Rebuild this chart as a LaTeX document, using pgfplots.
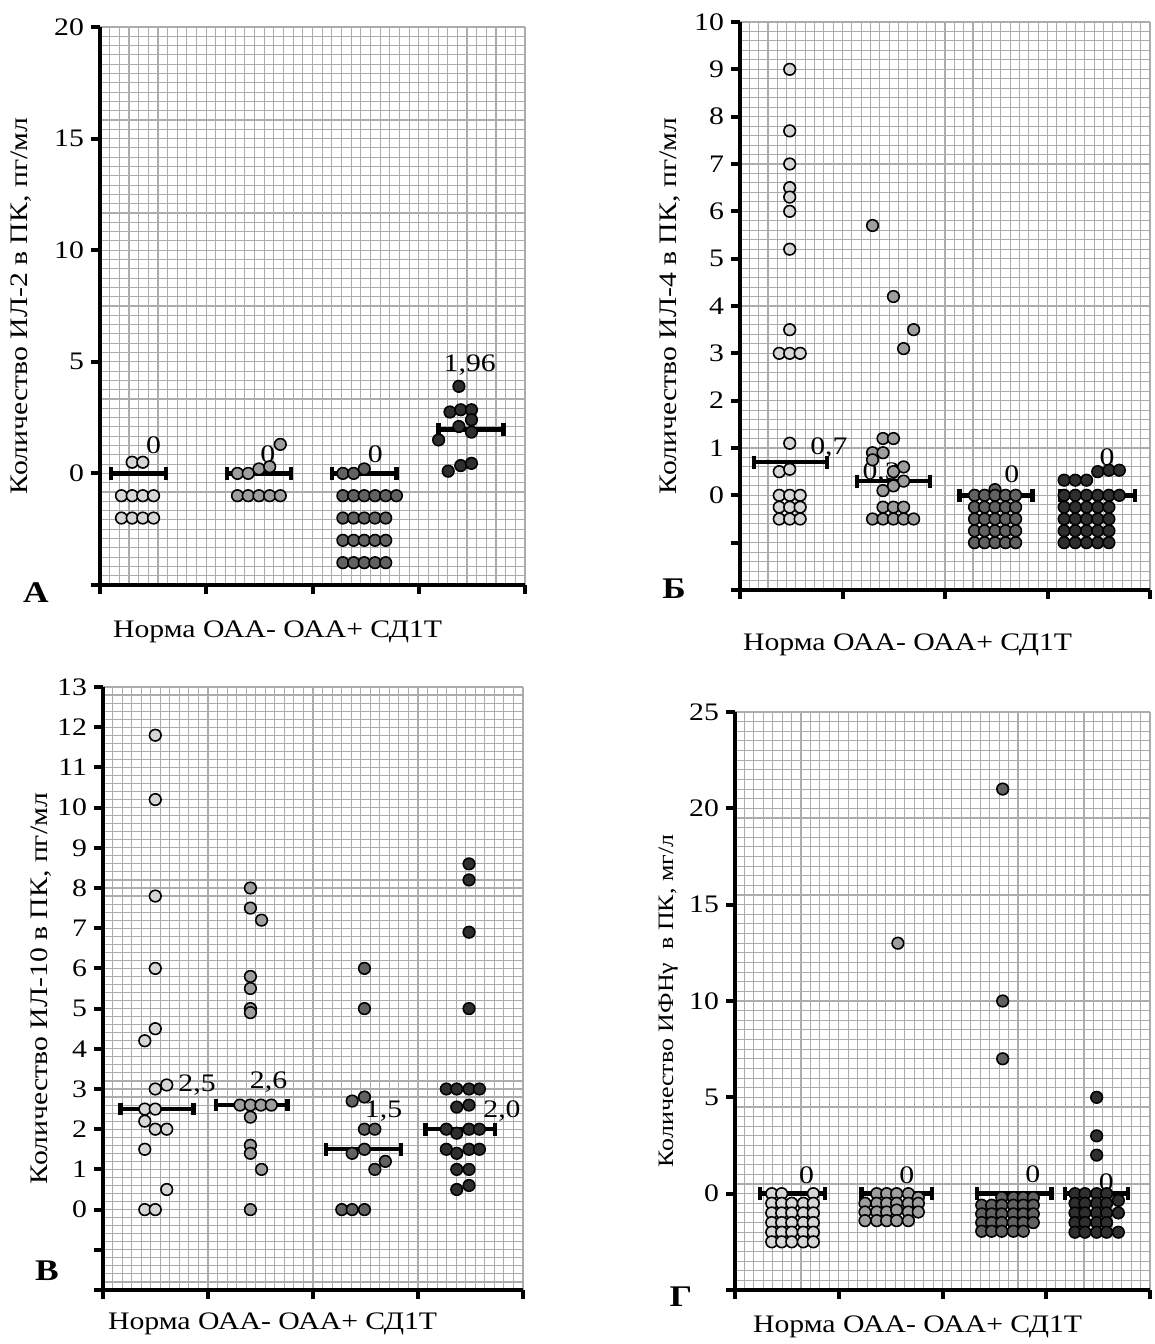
\documentclass[border=0pt]{standalone}
\usepackage{fontspec}
\setmainfont{Liberation Serif}[FakeStretch=1.18]
\usepackage{pgfplots}
\pgfplotsset{compat=1.18}

\definecolor{cN}{gray}{0.84}
\definecolor{cM}{gray}{0.62}
\definecolor{cD}{gray}{0.38}
\definecolor{cK}{gray}{0.18}

\newcommand{\fs}{\fontsize{12.6}{15}\selectfont}
\newcommand{\fl}{\fontsize{15}{18}\selectfont\bfseries}

\pgfplotsset{
  panel/.style={
    scale only axis, anchor=south west, enlargelimits=false, clip=false,
    xmin=0, xmax=4, xtick={0,1,2,3,4}, xticklabels={},
    axis lines=left, axis line style={-, line width=2.2pt},
    tick align=outside, tick pos=left,
    major tick length=4.5pt, minor tick length=0pt,
    every tick/.style={black, line width=2pt},
    grid=both,
    major grid style={gray!65, line width=0.55pt},
    minor grid style={gray!65, line width=0.55pt},
    minor x tick num=10,
    tick label style={font=\fs},
    ylabel style={font=\fs, anchor=center},
    /pgf/number format/assume math mode=true,
  },
  dot/.style={only marks, mark=*, mark size=2.9pt,
    mark options={draw=black, line width=0.8pt, fill=#1}},
  med/.style={black, line width=2.2pt, mark=|, mark size=3.2pt,
    mark options={line width=2.2pt}},
}

\begin{document}
\begin{tikzpicture}
\useasboundingbox (0,0) rectangle (577.5pt,672pt);

% ---------------- A: IL-2 ----------------
\begin{axis}[panel, at={(50pt,379.5pt)}, width=212.5pt, height=279pt,
  ymin=-5, ymax=20, ytick={-5,0,5,10,15,20}, yticklabels={,0,5,10,15,20},
  minor y tick num=11,
  ylabel={Количество ИЛ-2 в ПК, пг/мл},
  ylabel style={at={(axis description cs:-0.186,0.5)}}]
\addplot[med] coordinates {(0.101,0) (0.622,0)};
\addplot[med] coordinates {(1.193,0) (1.798,0)};
\addplot[med] coordinates {(2.185,0) (2.790,0)};
\addplot[med] coordinates {(3.187,1.96) (3.798,1.96)};
\addplot[dot=cN] coordinates {
  (0.303,0.5) (0.403,0.5)
  (0.202,-1) (0.303,-1) (0.403,-1) (0.504,-1)
  (0.202,-2) (0.303,-2) (0.403,-2) (0.504,-2)};
\addplot[dot=cM] coordinates {
  (1.294,0) (1.395,0) (1.496,0.2) (1.597,0.3) (1.697,1.3)
  (1.294,-1) (1.395,-1) (1.496,-1) (1.597,-1) (1.697,-1)};
\addplot[dot=cD] coordinates {
  (2.286,0) (2.387,0) (2.487,0.2)
  (2.286,-1) (2.387,-1) (2.487,-1) (2.588,-1) (2.689,-1) (2.790,-1)
  (2.286,-2) (2.387,-2) (2.487,-2) (2.588,-2) (2.689,-2)
  (2.286,-3) (2.387,-3) (2.487,-3) (2.588,-3) (2.689,-3)
  (2.286,-4) (2.387,-4) (2.487,-4) (2.588,-4) (2.689,-4)};
\addplot[dot=cK] coordinates {
  (3.378,3.9) (3.294,2.75) (3.395,2.85) (3.496,2.85) (3.496,2.4)
  (3.378,2.1) (3.496,1.85) (3.187,1.5) (3.277,0.1) (3.395,0.35) (3.496,0.45)};
\node[font=\fs] at (axis cs:0.504,1.24) {0};
\node[font=\fs] at (axis cs:1.58,0.86) {0};
\node[font=\fs] at (axis cs:2.59,0.86) {0};
\node[font=\fs] at (axis cs:3.48,4.85) {1,96};
\end{axis}

% ---------------- Б: IL-4 ----------------
\begin{axis}[panel, at={(370pt,377pt)}, width=205pt, height=284pt,
  ymin=-2, ymax=10, ytick={-2,...,10}, yticklabels={,,0,1,2,3,4,5,6,7,8,9,10},
  minor y tick num=4,
  ylabel={Количество ИЛ-4 в ПК, пг/мл},
  ylabel style={at={(axis description cs:-0.171,0.5)}}]
\addplot[med] coordinates {(0.138,0.7) (0.849,0.7)};
\addplot[med] coordinates {(1.140,0.3) (1.851,0.3)};
\addplot[med] coordinates {(2.142,0) (2.852,0)};
\addplot[med] coordinates {(3.126,0) (3.854,0)};
\addplot[dot=cN] coordinates {
  (0.485,9.0) (0.485,7.7) (0.485,7.0) (0.485,6.5) (0.485,6.3) (0.485,6.0)
  (0.485,5.2) (0.485,3.5) (0.383,3.0) (0.485,3.0) (0.587,3.0) (0.485,1.1)
  (0.383,0.5) (0.485,0.55)
  (0.383,0) (0.485,0) (0.587,0)
  (0.383,-0.25) (0.485,-0.25) (0.587,-0.25)
  (0.383,-0.5) (0.485,-0.5) (0.587,-0.5)};
\addplot[dot=cM] coordinates {
  (1.293,5.7) (1.497,4.2) (1.694,3.5) (1.596,3.1)
  (1.395,1.2) (1.497,1.2) (1.293,0.9) (1.395,0.9) (1.293,0.75)
  (1.596,0.6) (1.497,0.5) (1.596,0.3) (1.497,0.2) (1.395,0.1)
  (1.395,-0.25) (1.497,-0.25) (1.596,-0.25)
  (1.293,-0.5) (1.395,-0.5) (1.497,-0.5) (1.596,-0.5) (1.694,-0.5)};
\addplot[dot=cD] coordinates {
  (2.488,0.12)
  (2.288,0) (2.386,0) (2.488,0) (2.590,0) (2.689,0)
  (2.288,-0.25) (2.386,-0.25) (2.488,-0.25) (2.590,-0.25) (2.689,-0.25)
  (2.288,-0.5) (2.386,-0.5) (2.488,-0.5) (2.590,-0.5) (2.689,-0.5)
  (2.288,-0.75) (2.386,-0.75) (2.488,-0.75) (2.590,-0.75) (2.689,-0.75)
  (2.288,-1) (2.386,-1) (2.488,-1) (2.590,-1) (2.689,-1)};
\addplot[dot=cK] coordinates {
  (3.162,0.32) (3.271,0.32) (3.381,0.32) (3.490,0.5) (3.599,0.53) (3.701,0.53)
  (3.162,0) (3.271,0) (3.381,0) (3.490,0) (3.599,0) (3.701,0)
  (3.162,-0.25) (3.271,-0.25) (3.381,-0.25) (3.490,-0.25) (3.599,-0.25)
  (3.162,-0.5) (3.271,-0.5) (3.381,-0.5) (3.490,-0.5) (3.599,-0.5)
  (3.162,-0.75) (3.271,-0.75) (3.381,-0.75) (3.490,-0.75) (3.599,-0.75)
  (3.162,-1) (3.271,-1) (3.381,-1) (3.490,-1) (3.599,-1)};
\node[font=\fs] at (axis cs:0.867,1.0) {0,7};
\node[font=\fs] at (axis cs:1.377,0.47) {0,3};
\node[font=\fs] at (axis cs:2.652,0.44) {0};
\node[font=\fs] at (axis cs:3.581,0.81) {0};
\end{axis}

% ---------------- В: IL-10 ----------------
\begin{axis}[panel, at={(51.5pt,27pt)}, width=210pt, height=301.5pt,
  ymin=-2, ymax=13, ytick={-2,...,13}, yticklabels={,,0,1,2,3,4,5,6,7,8,9,10,11,12,13},
  minor y tick num=4,
  ylabel={Количество ИЛ-10 в ПК, пг/мл},
  ylabel style={at={(axis description cs:-0.148,0.5)}}]
\addplot[med] coordinates {(0.166,2.5) (0.863,2.5)};
\addplot[med] coordinates {(1.079,2.6) (1.759,2.6)};
\addplot[med] coordinates {(2.124,1.5) (2.838,1.5)};
\addplot[med] coordinates {(3.070,2.0) (3.734,2.0)};
\addplot[dot=cN] coordinates {
  (0.498,11.8) (0.498,10.2) (0.498,7.8) (0.498,6.0) (0.498,4.5) (0.398,4.2)
  (0.498,3.0) (0.607,3.1) (0.398,2.5) (0.498,2.5) (0.398,2.2) (0.498,2.0)
  (0.607,2.0) (0.398,1.5) (0.607,0.5) (0.398,0) (0.498,0)};
\addplot[dot=cM] coordinates {
  (1.404,8.0) (1.404,7.5) (1.510,7.2) (1.404,5.8) (1.404,5.5) (1.404,5.0)
  (1.404,4.9) (1.305,2.6) (1.404,2.6) (1.504,2.6) (1.603,2.6) (1.404,2.3)
  (1.404,1.6) (1.404,1.4) (1.510,1.0) (1.404,0)};
\addplot[dot=cD] coordinates {
  (2.490,6.0) (2.490,5.0) (2.373,2.7) (2.490,2.8) (2.490,2.0) (2.589,2.0)
  (2.373,1.4) (2.490,1.5) (2.589,1.0) (2.689,1.2) (2.274,0) (2.373,0) (2.490,0)};
\addplot[dot=cK] coordinates {
  (3.486,8.6) (3.486,8.2) (3.486,6.9) (3.486,5.0)
  (3.270,3.0) (3.369,3.0) (3.486,3.0) (3.585,3.0)
  (3.369,2.55) (3.486,2.6)
  (3.270,2.0) (3.369,1.9) (3.486,2.0) (3.585,2.0)
  (3.270,1.5) (3.369,1.4) (3.486,1.5) (3.585,1.5)
  (3.369,1.0) (3.486,1.0) (3.369,0.5) (3.486,0.6)};
\node[font=\fs] at (axis cs:0.896,3.1) {2,5};
\node[font=\fs] at (axis cs:1.577,3.16) {2,6};
\node[font=\fs] at (axis cs:2.672,2.45) {1,5};
\node[font=\fs] at (axis cs:3.80,2.45) {2,0};
\end{axis}

% ---------------- Г: IFN-gamma ----------------
\begin{axis}[panel, at={(367.5pt,27pt)}, width=207.5pt, height=289pt,
  ymin=-5, ymax=25, ytick={-5,0,5,10,15,20,25}, yticklabels={,0,5,10,15,20,25},
  minor y tick num=9,
  ylabel={Количество ИФНγ\ \ в ПК, мг/л},
  ylabel style={font=\fontsize{11}{13}\selectfont, at={(axis description cs:-0.161,0.5)}}]
\addplot[med] coordinates {(0.24,0) (0.87,0)};
\addplot[med] coordinates {(1.22,0) (1.90,0)};
\addplot[med] coordinates {(2.33,0) (3.05,0)};
\addplot[med] coordinates {(3.18,0) (3.79,0)};
\addplot[dot=cN] coordinates {
  (0.354,0) (0.450,0) (0.755,0)
  (0.354,-0.5) (0.450,-0.5) (0.547,-0.5) (0.658,-0.5) (0.755,-0.5)
  (0.354,-1) (0.450,-1) (0.547,-1) (0.658,-1) (0.755,-1)
  (0.354,-1.5) (0.450,-1.5) (0.547,-1.5) (0.658,-1.5) (0.755,-1.5)
  (0.354,-2) (0.450,-2) (0.547,-2) (0.658,-2) (0.755,-2)
  (0.354,-2.5) (0.450,-2.5) (0.547,-2.5) (0.658,-2.5) (0.755,-2.5)};
\addplot[dot=cM] coordinates {
  (1.570,13)
  (1.366,0) (1.462,0) (1.558,0) (1.671,0) (1.767,-0.2)
  (1.253,-0.5) (1.366,-0.5) (1.462,-0.5) (1.558,-0.5) (1.671,-0.5) (1.767,-0.5)
  (1.253,-0.95) (1.366,-0.95) (1.462,-0.95) (1.558,-0.85) (1.671,-0.95) (1.767,-0.95)
  (1.253,-1.4) (1.366,-1.4) (1.462,-1.4) (1.558,-1.4) (1.671,-1.4)};
\addplot[dot=cD] coordinates {
  (2.580,21) (2.580,10) (2.580,7)
  (2.571,-0.2) (2.683,-0.2) (2.779,-0.2) (2.875,-0.2)
  (2.378,-0.6) (2.474,-0.6) (2.571,-0.6) (2.683,-0.6) (2.779,-0.6) (2.875,-0.6)
  (2.378,-1.05) (2.474,-1.05) (2.571,-1.05) (2.683,-1.05) (2.779,-1.05) (2.875,-1.05)
  (2.378,-1.5) (2.474,-1.5) (2.571,-1.5) (2.683,-1.5) (2.779,-1.5) (2.875,-1.5)
  (2.378,-1.95) (2.474,-1.95) (2.571,-1.95) (2.683,-1.95) (2.779,-1.95)};
\addplot[dot=cK] coordinates {
  (3.486,5) (3.486,3) (3.486,2)
  (3.277,0) (3.373,0) (3.486,0) (3.582,0)
  (3.277,-0.5) (3.373,-0.5) (3.486,-0.5) (3.582,-0.5) (3.695,-0.35)
  (3.277,-1) (3.373,-1) (3.486,-1) (3.582,-1) (3.695,-1)
  (3.277,-1.5) (3.373,-1.5) (3.486,-1.5) (3.582,-1.5)
  (3.277,-2) (3.373,-2) (3.486,-2) (3.582,-2) (3.695,-2)};
\node[font=\fs] at (axis cs:0.69,0.95) {0};
\node[font=\fs] at (axis cs:1.655,0.95) {0};
\node[font=\fs] at (axis cs:2.87,1.0) {0};
\node[font=\fs] at (axis cs:3.58,0.6) {0};
\end{axis}

% category captions and panel letters
\node[font=\fs, anchor=west] at (53pt,356pt) {Норма ОАА- ОАА+ СД1Т};
\node[font=\fs, anchor=west] at (368pt,349.5pt) {Норма ОАА- ОАА+ СД1Т};
\node[font=\fs, anchor=west] at (50.5pt,10pt) {Норма ОАА- ОАА+ СД1Т};
\node[font=\fs, anchor=west] at (373pt,8.5pt) {Норма ОАА- ОАА+ СД1Т};
\node[font=\fl] at (18pt,375.5pt) {А};
\node[font=\fl] at (337pt,377.5pt) {Б};
\node[font=\fl] at (23.5pt,36.5pt) {В};
\node[font=\fl] at (340.5pt,23.5pt) {Г};
\end{tikzpicture}
\end{document}
